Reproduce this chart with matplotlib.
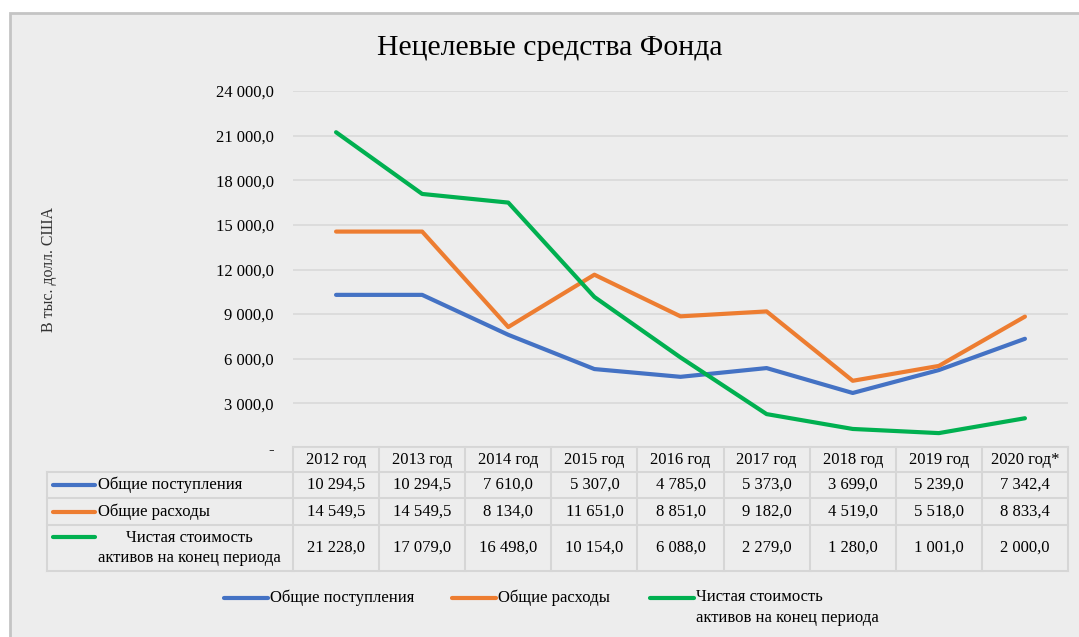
import matplotlib
matplotlib.use("Agg")
import matplotlib.pyplot as plt
from matplotlib.patches import Rectangle

plt.rcParams['font.family'] = ['Liberation Serif', 'DejaVu Serif']

# данные
years = ["2012 год", "2013 год", "2014 год", "2015 год", "2016 год",
         "2017 год", "2018 год", "2019 год", "2020 год*"]
postupleniya = [10294.5, 10294.5, 7610.0, 5307.0, 4785.0, 5373.0, 3699.0, 5239.0, 7342.4]
raskhody = [14549.5, 14549.5, 8134.0, 11651.0, 8851.0, 9182.0, 4519.0, 5518.0, 8833.4]
aktivy = [21228.0, 17079.0, 16498.0, 10154.0, 6088.0, 2279.0, 1280.0, 1001.0, 2000.0]
series_names = ["Общие поступления", "Общие расходы",
                "Чистая стоимость\nактивов на конец периода"]
colors = ["#4472C4", "#ED7D31", "#00B050"]
y_ticks = [0, 3000, 6000, 9000, 12000, 15000, 18000, 21000, 24000]

series = [postupleniya, raskhody, aktivy]
FS = 12


def fmt(v):
    return f"{v:,.1f}".replace(",", " ").replace(".", ",")


W, H = 1079, 637
fig = plt.figure(figsize=(W / 100, H / 100), dpi=100, facecolor="white")

# фон, таблица и подписи рисуются в пиксельных координатах
ov = fig.add_axes([0, 0, 1, 1])
ov.set_xlim(0, W)
ov.set_ylim(H, 0)
ov.axis("off")
ov.add_patch(Rectangle((10, 13), W, H, facecolor="#ededed", edgecolor="#c4c4c4", lw=2))

ov.text(550, 48, "Нецелевые средства Фонда", fontsize=21.4, ha="center", va="center")
ov.text(49, 270, "В тыс. долл. США", fontsize=11.5, rotation=90, ha="center", va="center",
        color="#333333")

# график
x0, x1 = 293, 1068
y_top, y_bot = 91, 448
ax = fig.add_axes([x0 / W, (H - y_bot) / H, (x1 - x0) / W, (y_bot - y_top) / H])
ax.set_facecolor("none")
for s in ax.spines.values():
    s.set_visible(False)
xs = list(range(len(years)))
for vals, c in zip(series, colors):
    ax.plot(xs, vals, color=c, lw=3, solid_capstyle="round", zorder=3)
ax.set_xlim(-0.5, len(years) - 0.5)
ax.set_ylim(0, 24000)
ax.set_yticks(y_ticks)
ax.set_yticklabels(["-" if t == 0 else fmt(t) for t in y_ticks], fontsize=FS)
ax.tick_params(axis="y", length=0, pad=14)
ax.set_xticks([])
ax.grid(axis="y", color="#d9d9d9", lw=1.2)
ax.set_axisbelow(True)

# таблица данных
col_w = (x1 - x0) / len(years)
lab_x0 = 47
rows_y = [447, 472, 498, 525, 571]
bc = "#d6d6d6"
ov.plot([x0, x1], [rows_y[0], rows_y[0]], color=bc, lw=1.5)
for yy in rows_y[1:]:
    ov.plot([lab_x0, x1], [yy, yy], color=bc, lw=1.5)
ov.plot([lab_x0, lab_x0], [rows_y[1], rows_y[-1]], color=bc, lw=1.5)
for i in range(len(years) + 1):
    xx = x0 + i * col_w
    ov.plot([xx, xx], [rows_y[0], rows_y[-1]], color=bc, lw=1.5)

for i, yr in enumerate(years):
    cx = x0 + (i + 0.5) * col_w
    ov.text(cx, (rows_y[0] + rows_y[1]) / 2, yr, fontsize=FS, ha="center", va="center")
    for r, vals in enumerate(series):
        cy = (rows_y[r + 1] + rows_y[r + 2]) / 2
        ov.text(cx, cy, fmt(vals[i]), fontsize=FS, ha="center", va="center")

for r, (name, c) in enumerate(zip(series_names, colors)):
    cy = (rows_y[r + 1] + rows_y[r + 2]) / 2
    if r < 2:
        ov.plot([53, 95], [cy, cy], color=c, lw=3, solid_capstyle="round")
        ov.text(98, cy, name, fontsize=FS, ha="left", va="center")
    else:
        ov.plot([53, 95], [537, 537], color=c, lw=3, solid_capstyle="round")
        ov.text(189, cy, name, fontsize=FS, ha="center", va="center",
                multialignment="center", linespacing=1.3)

# легенда
leg_x = [224, 452, 650]
for lx, name, c in zip(leg_x, series_names, colors):
    ov.plot([lx, lx + 44], [598, 598], color=c, lw=3, solid_capstyle="round")
    ov.text(lx + 46, 589, name, fontsize=FS, ha="left", va="top", linespacing=1.4)

fig.savefig("out.png", dpi=100, facecolor="white")
